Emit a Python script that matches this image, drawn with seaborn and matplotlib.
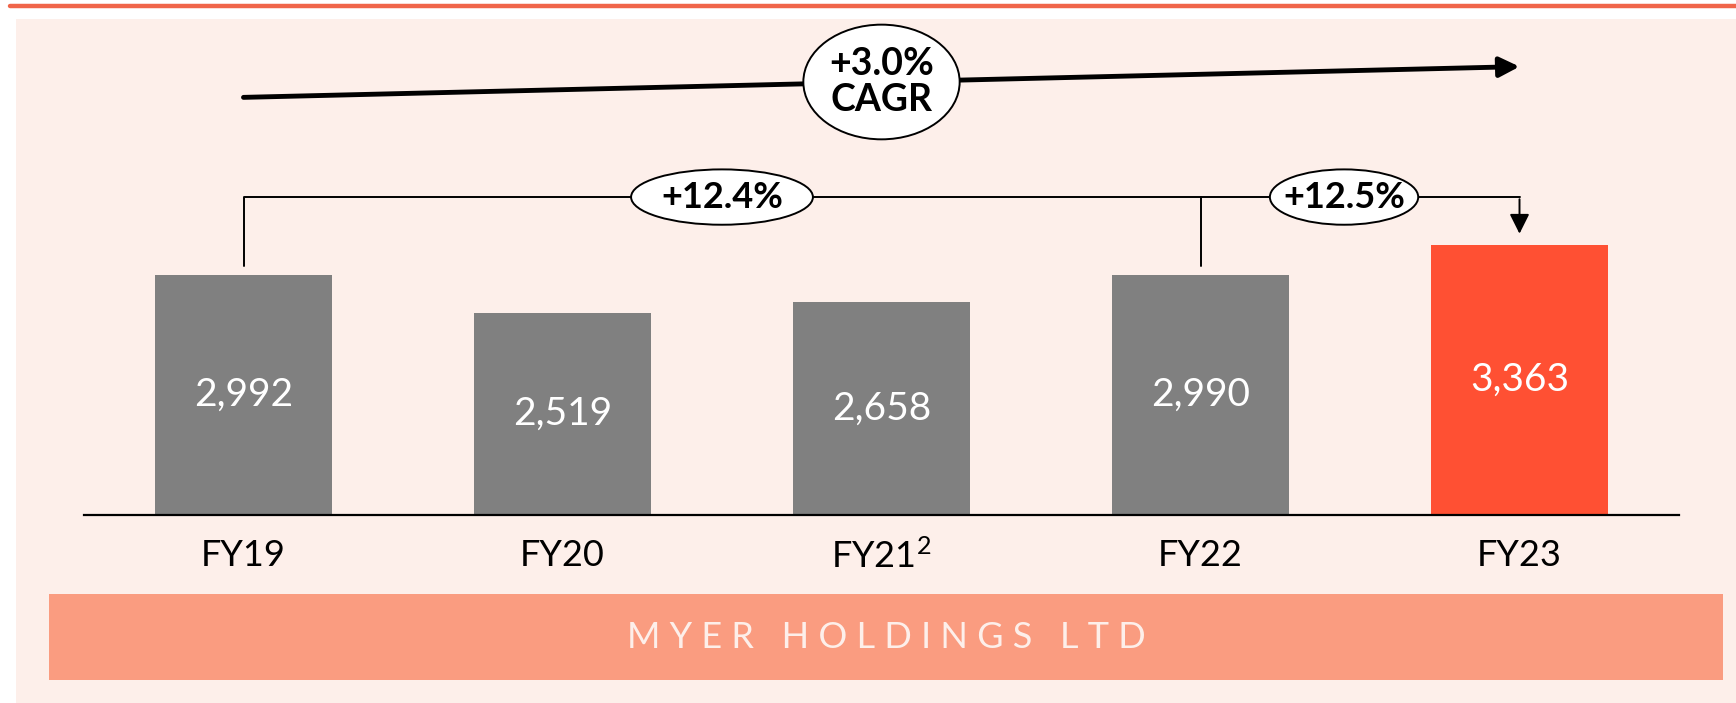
import numpy as np
import matplotlib.pyplot as plt
import seaborn as sns
from matplotlib.patches import Ellipse, Rectangle
from matplotlib.lines import Line2D

# data
years = ['FY19', 'FY20', 'FY21$^{2}$', 'FY22', 'FY23']
sales = [2992, 2519, 2658, 2990, 3363]
bar_colors = ['#808080', '#808080', '#808080', '#808080', '#FF5033']
cagr_label = '+3.0%\nCAGR'
growth_labels = ['+12.4%', '+12.5%']
company = 'MYER HOLDINGS LTD'

sns.set_theme(style='white')
plt.rcParams['font.family'] = ['Lato', 'DejaVu Sans']
plt.rcParams['mathtext.fontset'] = 'custom'
plt.rcParams['mathtext.rm'] = 'Lato'
plt.rcParams['mathtext.default'] = 'rm'

W, H = 1736, 703
fig = plt.figure(figsize=(W / 100, H / 100), dpi=100)
fig.patch.set_facecolor('white')

# background panel + top rule
fig.patches.append(Rectangle((16 / W, 0), 1 - 16 / W, 1 - 19 / H, transform=fig.transFigure,
                             facecolor='#FDEFEA', edgecolor='none', zorder=-2))
fig.add_artist(Line2D([10 / W, 1], [1 - 6 / H, 1 - 6 / H], transform=fig.transFigure,
                      color='#F0654A', lw=3.2, zorder=-1))

# company banner
fig.patches.append(Rectangle((49 / W, 1 - 680 / H), (1723 - 49) / W, 86 / H,
                             transform=fig.transFigure, facecolor='#FA9C80', edgecolor='none',
                             zorder=-1))
fig.text(886 / W, 1 - 637 / H, '   '.join(' '.join(w) for w in company.split()),
         ha='center', va='center', color='#FDEFEA', fontsize=26, fontweight='normal')

# main axes
ax = fig.add_axes([84 / W, 1 - 515 / H, 1595 / W, (515 - 19) / H])
ax.set_facecolor('none')
ax.patch.set_alpha(0)
sns.barplot(x=years, y=sales, hue=years, palette=bar_colors, legend=False,
            width=0.555, saturation=1, linewidth=0, ax=ax)
ax.set_xlim(-0.5, 4.5)
ymax = 496 / 0.0802
ax.set_ylim(0, ymax)
ax.set_xlabel('')
ax.set_ylabel('')
ax.set_yticks([])
for s in ['left', 'right', 'top']:
    ax.spines[s].set_visible(False)
ax.spines['bottom'].set_color('black')
ax.spines['bottom'].set_linewidth(1.6)
ax.tick_params(axis='x', length=0, pad=17, labelsize=26, labelcolor='black')

for i, v in enumerate(sales):
    ax.text(i, v / 2, f'{v:,}', ha='center', va='center', color='white', fontsize=28)

# growth bracket
gap = 110
by = ymax * 0.641
ax.plot([0, 0, 4], [sales[0] + gap, by, by], color='black', lw=1.4, zorder=3)
ax.plot([3, 3], [sales[3] + gap, by], color='black', lw=1.4, zorder=3)
ax.annotate('', xy=(4, sales[4] + gap), xytext=(4, by + 8),
            arrowprops=dict(arrowstyle='-|>', color='black', lw=1.4, mutation_scale=30))

for cx, w, lab in [(1.5, 0.57, growth_labels[0]), (3.45, 0.465, growth_labels[1])]:
    ax.add_patch(Ellipse((cx, by), w, 690, facecolor='white', edgecolor='black', lw=1.4, zorder=4))
    ax.text(cx, by, lab, ha='center', va='center', fontsize=26, fontweight='bold',
            color='black', zorder=5)

# CAGR arrow
y0, y1 = ymax * 0.842, ymax * 0.904
ax.annotate('', xy=(4, y1), xytext=(0, y0),
            arrowprops=dict(arrowstyle='-|>', color='black', lw=3.5, mutation_scale=30,
                            shrinkA=0, shrinkB=0))
ax.add_patch(Ellipse((2.0, (y0 + y1) / 2), 0.49, 1430, facecolor='white', edgecolor='black',
                     lw=1.4, zorder=4))
ax.text(2.0, (y0 + y1) / 2, cagr_label, ha='center', va='center', fontsize=27,
        fontweight='bold', color='black', linespacing=1.1, zorder=5)

fig.savefig('out.png', dpi=100)
